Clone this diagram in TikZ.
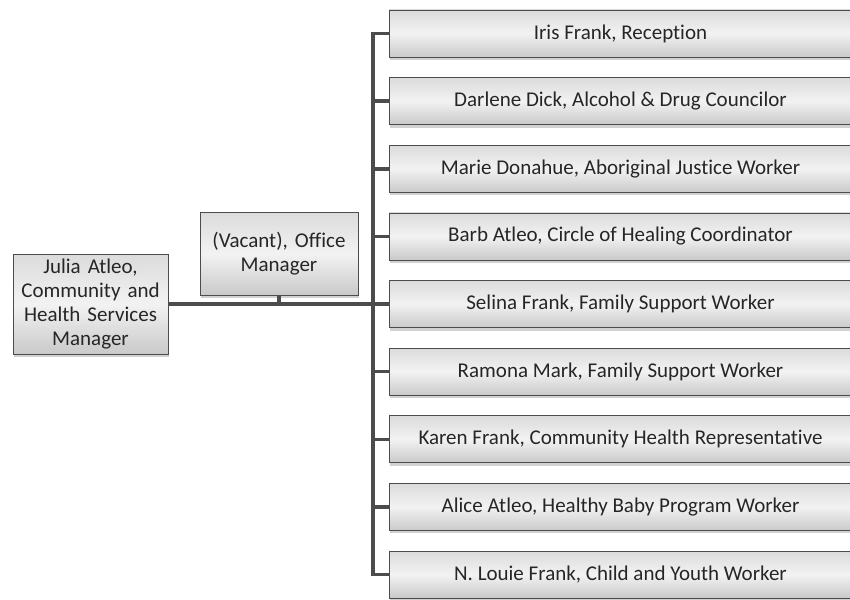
\documentclass[tikz,border=0pt]{standalone}
\usepackage{fontspec}
\setmainfont{Carlito}[Ligatures=NoCommon]
\usetikzlibrary{shadows}
\begin{document}
\begin{tikzpicture}[x=1pt,y=-1pt,
  card/.style={draw=black!70, line width=0.8pt, inner sep=2pt,
    top color=gray!28, bottom color=gray!42, middle color=gray!10,
    drop shadow={shadow xshift=1pt, shadow yshift=-3pt, fill=gray!45, opacity=0.8},
    text=black!85, font=\fontsize{21}{23.8}\selectfont, align=center},
  staff/.style={card, minimum width=463pt, minimum height=47pt},
  conn/.style={draw=black!70, line width=3.5pt}]
\useasboundingbox (0,0) rectangle (850,599);

% Manager and office manager
\node[card, minimum width=155pt, minimum height=100pt, text width=150pt] (lead) at (90.5,304)
  {Julia Atleo,\\Community and\\Health Services\\Manager};
\node[card, minimum width=158pt, minimum height=83pt, text width=152pt] (vac) at (279,253.5)
  {(Vacant), Office\\Manager};

% Staff boxes
\node[staff] (r0) at (620.5,33.5)  {Iris Frank, Reception};
\node[staff] (r1) at (620.5,101.1) {Darlene Dick, Alcohol \& Drug Councilor};
\node[staff] (r2) at (620.5,168.8) {Marie Donahue, Aboriginal Justice Worker};
\node[staff] (r3) at (620.5,236.4) {Barb Atleo, Circle of Healing Coordinator};
\node[staff] (r4) at (620.5,304)   {Selina Frank, Family Support Worker};
\node[staff] (r5) at (620.5,371.6) {Ramona Mark, Family Support Worker};
\node[staff] (r6) at (620.5,439.3) {Karen Frank, Community Health Representative};
\node[staff] (r7) at (620.5,506.9) {Alice Atleo, Healthy Baby Program Worker};
\node[staff] (r8) at (620.5,574.5) {N. Louie Frank, Child and Youth Worker};

% Connectors
\coordinate (tx) at (373,0);
\draw[conn] (lead.east) -- (r4.west);
\draw[conn] (vac.south) -- (vac.south |- lead.east);
\draw[conn, line join=miter] (r0.west) -- (r0.west -| tx) -- (r8.west -| tx) -- (r8.west);
\foreach \i in {1,...,7} {
  \draw[conn] (r\i.west -| tx) -- (r\i.west);
}
\end{tikzpicture}
\end{document}
